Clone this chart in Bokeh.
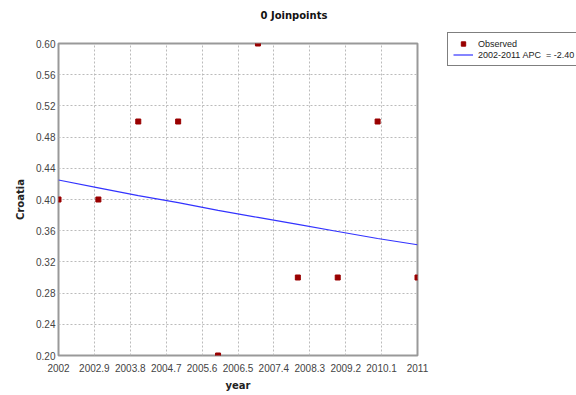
from bokeh.plotting import figure
from bokeh.layouts import row
from bokeh.models import Range1d, FixedTicker, Legend, LegendItem, Title
from bokeh.embed import file_html
from bokeh.resources import INLINE

years = [2002, 2003, 2004, 2005, 2006, 2007, 2008, 2009, 2010, 2011]
observed = [0.40, 0.40, 0.50, 0.50, 0.20, 0.60, 0.30, 0.30, 0.50, 0.30]
fitted = [0.425, 0.415, 0.405, 0.396, 0.386, 0.377, 0.368, 0.359, 0.350, 0.342]
x_ticks = [2002, 2002.9, 2003.8, 2004.7, 2005.6, 2006.5, 2007.4, 2008.3, 2009.2, 2010.1, 2011]
x_tick_labels = ["2002", "2002.9", "2003.8", "2004.7", "2005.6", "2006.5", "2007.4", "2008.3", "2009.2", "2010.1", "2011"]
y_ticks = [0.20, 0.24, 0.28, 0.32, 0.36, 0.40, 0.44, 0.48, 0.52, 0.56, 0.60]
title_text = "0 Joinpoints"
x_label = "year"
y_label = "Croatia"
legend_labels = ["Observed", "2002-2011 APC  = -2.40"]

OBS_COLOR = "#990000"
FIT_COLOR = "#3333ff"

p = figure(width=430, height=395, output_backend="svg", toolbar_location=None,
           x_range=Range1d(2002, 2011), y_range=Range1d(0.20, 0.60),
           min_border_left=58, min_border_right=13, min_border_top=43, min_border_bottom=40)
p.background_fill_color = "white"
p.border_fill_color = "white"
p.outline_line_color = "#999999"
p.outline_line_width = 2

# spacer between title and frame
p.add_layout(Title(text=" ", text_font_size="1px", standoff=18), "above")

p.title.text = title_text
p.title.align = "left"
p.title.offset = 202
p.title.vertical_align = "bottom"
p.title.text_font = "DejaVu Sans"
p.title.text_font_size = "10px"
p.title.text_font_style = "bold"
p.title.text_color = "#111111"
p.title.standoff = 4

p.xaxis.ticker = FixedTicker(ticks=x_ticks)
p.xaxis.major_label_overrides = {t: s for t, s in zip(x_ticks, x_tick_labels)}
p.yaxis.ticker = FixedTicker(ticks=y_ticks)
p.yaxis.major_label_overrides = {t: "%.2f" % t for t in y_ticks}

for ax in (p.xaxis, p.yaxis):
    ax.axis_line_color = None
    ax.major_tick_line_color = None
    ax.minor_tick_line_color = None
    ax.major_tick_out = 0
    ax.major_tick_in = 0
    ax.major_label_text_font = "Liberation Sans"
    ax.major_label_text_font_size = "10px"
    ax.major_label_text_color = "#444444"
    ax.axis_label_text_font = "DejaVu Sans"
    ax.axis_label_text_font_size = "10px"
    ax.axis_label_text_font_style = "bold"
    ax.axis_label_text_color = "#222222"

p.xaxis.axis_label = x_label
p.yaxis.axis_label = y_label
p.xaxis.major_label_standoff = 8
p.xaxis.axis_label_standoff = 5
p.yaxis.major_label_standoff = 3
p.yaxis.axis_label_standoff = 7

p.xgrid.grid_line_color = "#bbbbbb"
p.ygrid.grid_line_color = "#bbbbbb"
p.xgrid.grid_line_dash = "2 2"
p.ygrid.grid_line_dash = "2 2"

p.scatter(years, observed, marker="square", size=5, color=OBS_COLOR)
p.line(years, fitted, line_color=FIT_COLOR, line_width=1.2)

# Side figure holding the legend box (outside the plotting frame)
q = figure(width=146, height=395, output_backend="svg", toolbar_location=None,
           x_range=Range1d(0, 1), y_range=Range1d(0, 1),
           x_axis_location=None, y_axis_location=None,
           min_border_left=0, min_border_right=0, min_border_top=0, min_border_bottom=0)
q.outline_line_color = None
q.xgrid.visible = False
q.ygrid.visible = False
q.background_fill_color = "white"
q.border_fill_color = "white"
q_obs = q.scatter(years, observed, marker="square", size=4, color=OBS_COLOR)
q_fit = q.line(years, fitted, line_color=FIT_COLOR, line_width=1.2)

legend = Legend(items=[LegendItem(label=legend_labels[0], renderers=[q_obs]),
                       LegendItem(label=legend_labels[1], renderers=[q_fit])],
                location=(17, 289))
legend.border_line_color = "black"
legend.border_line_width = 1
legend.background_fill_color = "white"
legend.padding = 5
legend.spacing = 0
legend.margin = 0
legend.glyph_width = 20
legend.glyph_height = 11
legend.label_height = 11
legend.label_standoff = 5
legend.label_text_font = "Liberation Sans"
legend.label_text_font_size = "9px"
legend.label_text_color = "#222222"
q.add_layout(legend, "left")

layout = row(p, q, spacing=0)
open("out.html", "w").write(file_html(layout, INLINE))
